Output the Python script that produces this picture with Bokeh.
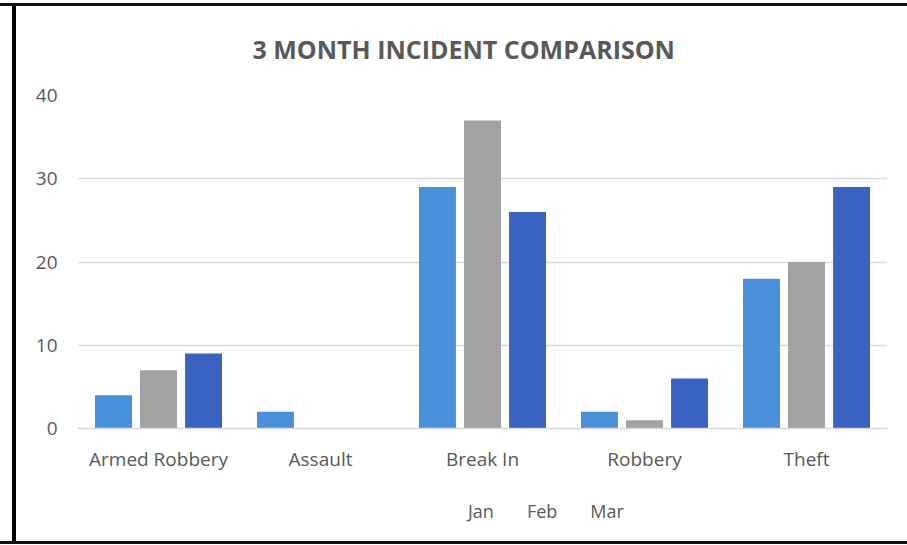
from bokeh.plotting import figure
from bokeh.models import ColumnDataSource, FactorRange, Legend, LegendItem, Range1d, SingleIntervalTicker
from bokeh.layouts import column
from bokeh.transform import dodge
from bokeh.embed import file_html
from bokeh.resources import INLINE

categories = ["Armed Robbery", "Assault", "Break In", "Robbery", "Theft"]
jan = [4, 2, 29, 2, 18]
feb = [7, 0, 37, 1, 20]
mar = [9, 0, 26, 6, 29]
series_names = ["Jan", "Feb", "Mar"]
colors = ["#4A8FDA", "#A2A2A2", "#3A62C2"]

src = ColumnDataSource(dict(cat=categories, Jan=jan, Feb=feb, Mar=mar))

FONT = "Open Sans"
TXT = "#595959"
LEFT_BAR = "inset 12px 0 0 #fff, inset 16px 0 0 #000"

p = figure(x_range=FactorRange(*categories, range_padding=0), y_range=Range1d(0, 40),
           width=907, height=480, output_backend="svg", toolbar_location=None,
           min_border_left=77, min_border_right=20, min_border_top=92, min_border_bottom=52)
p.border_fill_alpha = 0
p.background_fill_alpha = 0
p.styles = {"box-shadow": "inset 0 3px 0 #fff, inset 0 6px 0 #111, " + LEFT_BAR}

offsets = [-0.278, 0.0, 0.278]
renderers = []
for name, col, off in zip(series_names, colors, offsets):
    r = p.vbar(x=dodge("cat", off, range=p.x_range), top=name, width=0.228, source=src,
               fill_color=col, line_color=None)
    renderers.append(r)

p.title.text = "3 MONTH INCIDENT COMPARISON"
p.title.align = "left"
p.title.offset = 175
p.title.text_font = FONT
p.title.text_font_size = "25px"
p.title.text_font_style = "bold"
p.title.text_color = TXT
p.title.standoff = 59

p.outline_line_color = None
p.xgrid.grid_line_color = None
p.ygrid.grid_line_color = "#D9D9D9"
p.ygrid.grid_line_width = 1.5
p.yaxis.ticker = SingleIntervalTicker(interval=10)

for ax in (p.xaxis[0], p.yaxis[0]):
    ax.axis_line_color = None
    ax.major_tick_line_color = None
    ax.minor_tick_line_color = None
    ax.major_tick_out = 0
    ax.major_tick_in = 0
    ax.minor_tick_out = 0
    ax.major_label_text_font = FONT
    ax.major_label_text_font_size = "19px"
    ax.major_label_text_color = TXT
p.xaxis.axis_line_color = "#D9D9D9"
p.xaxis.axis_line_width = 1.5
p.xaxis.major_label_standoff = 17
p.yaxis.major_label_standoff = 20

# legend strip below the chart
p2 = figure(width=907, height=65, output_backend="svg", toolbar_location=None,
            x_range=Range1d(0, 1), y_range=Range1d(0, 1),
            x_axis_location=None, y_axis_location=None,
            min_border_left=0, min_border_right=0, min_border_top=0, min_border_bottom=0)
p2.border_fill_alpha = 0
p2.background_fill_alpha = 0
p2.outline_line_color = None
p2.xgrid.grid_line_color = None
p2.ygrid.grid_line_color = None
p2.styles = {"box-shadow": "inset 0 -1px 0 #fff, inset 0 -4px 0 #111, " + LEFT_BAR}
legend_renderers = []
for name, col in zip(series_names, colors):
    empty = ColumnDataSource(dict(x=[], top=[]))
    legend_renderers.append(p2.vbar(x="x", top="top", width=0.1, source=empty,
                                    fill_color=col, line_color=None))

legend = Legend(items=[LegendItem(label=n, renderers=[r]) for n, r in zip(series_names, legend_renderers)],
                orientation="horizontal", location=(373, 22),
                label_text_font=FONT, label_text_font_size="18px", label_text_color=TXT,
                glyph_width=12, glyph_height=12, spacing=15, label_standoff=6,
                border_line_color=None, background_fill_alpha=0, margin=0, padding=4)
p2.add_layout(legend, "center")

layout = column(p, p2, spacing=0)

open("out.html", "w").write(file_html(layout, INLINE))
